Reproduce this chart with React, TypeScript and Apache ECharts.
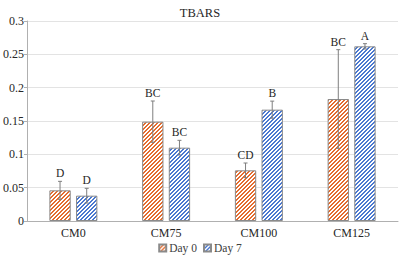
import React, { useEffect, useRef } from "react";
import * as echarts from "echarts";

const categories = ["CM0", "CM75", "CM100", "CM125"];
const day0Values = [0.046, 0.149, 0.076, 0.183];
const day7Values = [0.038, 0.11, 0.167, 0.262];
const day0Errors = [0.0135, 0.031, 0.011, 0.074];
const day7Errors = [0.011, 0.011, 0.0128, 0.004];
const day0Letters = ["D", "BC", "CD", "BC"];
const day7Letters = ["D", "BC", "B", "A"];
const yTicks = [0, 0.05, 0.1, 0.15, 0.2, 0.25, 0.3];

const FONT = "Liberation Serif";
const ORANGE = "#E46C2E";
const BLUE = "#4A78D0";
const BAR_FRAC = 0.23;
const GAP_FRAC = 0.25;

// Fine upward-diagonal hatch drawn into a small tile
const hatchTile = (color: string) => {
  const size = 4;
  const c = document.createElement("canvas");
  c.width = size;
  c.height = size;
  const ctx = c.getContext("2d")!;
  ctx.fillStyle = "#ffffff";
  ctx.fillRect(0, 0, size, size);
  ctx.fillStyle = color;
  for (let y = 0; y < size; y++) {
    for (let x = 0; x < size; x++) {
      const d = (x + y) % size;
      if (d === size - 1 || d === 0) ctx.fillRect(x, y, 1, 1);
    }
  }
  return { image: c, repeat: "repeat" };
};

const barSeries = (name: string, values: number[], color: string) => ({
  type: "bar",
  name,
  data: values,
  barWidth: `${BAR_FRAC * 100}%`,
  barGap: `${GAP_FRAC * 100}%`,
  itemStyle: {
    color: hatchTile(color),
    borderColor: "#8a8a8a",
    borderWidth: 1,
  },
});

const errorSeries = (
  id: string,
  values: number[],
  errors: number[],
  letters: string[],
  side: number
) => ({
  type: "custom",
  id,
  data: values.map((v, i) => [i, v, errors[i]]),
  encode: { x: 0, y: 1 },
  z: 5,
  clip: false,
  silent: true,
  renderItem: (params: any, api: any) => {
    const i = api.value(0);
    const v = api.value(1);
    const e = api.value(2);
    const band = api.size([1, 0])[0];
    const w = band * BAR_FRAC;
    const dx = (side * w * (1 + GAP_FRAC)) / 2;
    const top = api.coord([i, v + e]);
    const bot = api.coord([i, v - e]);
    const x = top[0] + dx;
    const stroke = { stroke: "#7f7f7f", lineWidth: 1 };
    return {
      type: "group",
      children: [
        { type: "line", shape: { x1: x, y1: top[1], x2: x, y2: bot[1] }, style: stroke },
        { type: "line", shape: { x1: x - 2, y1: top[1], x2: x + 2, y2: top[1] }, style: stroke },
        { type: "line", shape: { x1: x - 2, y1: bot[1], x2: x + 2, y2: bot[1] }, style: stroke },
        {
          type: "text",
          x,
          y: top[1] - 2,
          style: {
            text: letters[params.dataIndex],
            align: "center",
            verticalAlign: "bottom",
            fontFamily: FONT,
            fontSize: 11.5,
            fill: "#262626",
          },
        },
      ],
    };
  },
});

export default function App() {
  const ref = useRef<HTMLDivElement>(null);

  useEffect(() => {
    if (!ref.current) return;
    const chart = echarts.init(ref.current, undefined, { renderer: "svg" });
    chart.setOption({
      animation: false,
      backgroundColor: "#ffffff",
      textStyle: { fontFamily: FONT },
      title: {
        text: "TBARS",
        left: "center",
        top: 1,
        textStyle: { fontFamily: FONT, fontSize: 12.5, fontWeight: "normal", color: "#262626" },
      },
      legend: {
        data: ["Day 0", "Day 7"],
        bottom: 2,
        padding: 0,
        left: "center",
        itemWidth: 7,
        itemHeight: 7,
        itemGap: 6,
        icon: "rect",
        textStyle: { fontFamily: FONT, fontSize: 11.5, color: "#404040", padding: [0, 0, 0, -2] },
      },
      grid: { left: 26, right: 2, top: 21, bottom: 35 },
      xAxis: {
        type: "category",
        data: categories,
        axisTick: { show: false },
        axisLine: { lineStyle: { color: "#b0b0b0" } },
        axisLabel: { fontFamily: FONT, fontSize: 12, color: "#262626", margin: 6 },
      },
      yAxis: {
        type: "value",
        min: yTicks[0],
        max: yTicks[yTicks.length - 1],
        interval: yTicks[1] - yTicks[0],
        axisLine: { show: true, lineStyle: { color: "#b0b0b0" } },
        axisTick: { show: true, length: 3, lineStyle: { color: "#b0b0b0" } },
        splitLine: { lineStyle: { color: "#e3e3e3" } },
        axisLabel: {
          fontFamily: FONT,
          fontSize: 12,
          color: "#262626",
          margin: 3,
          formatter: (v: number) => String(Number(v.toFixed(2))),
        },
      },
      series: [
        barSeries("Day 0", day0Values, ORANGE),
        barSeries("Day 7", day7Values, BLUE),
        errorSeries("err0", day0Values, day0Errors, day0Letters, -1),
        errorSeries("err7", day7Values, day7Errors, day7Letters, 1),
      ],
    });
    return () => chart.dispose();
  }, []);

  return <div ref={ref} style={{ width: 400, height: 256, position: "absolute", left: 0, top: 0 }} />;
}
